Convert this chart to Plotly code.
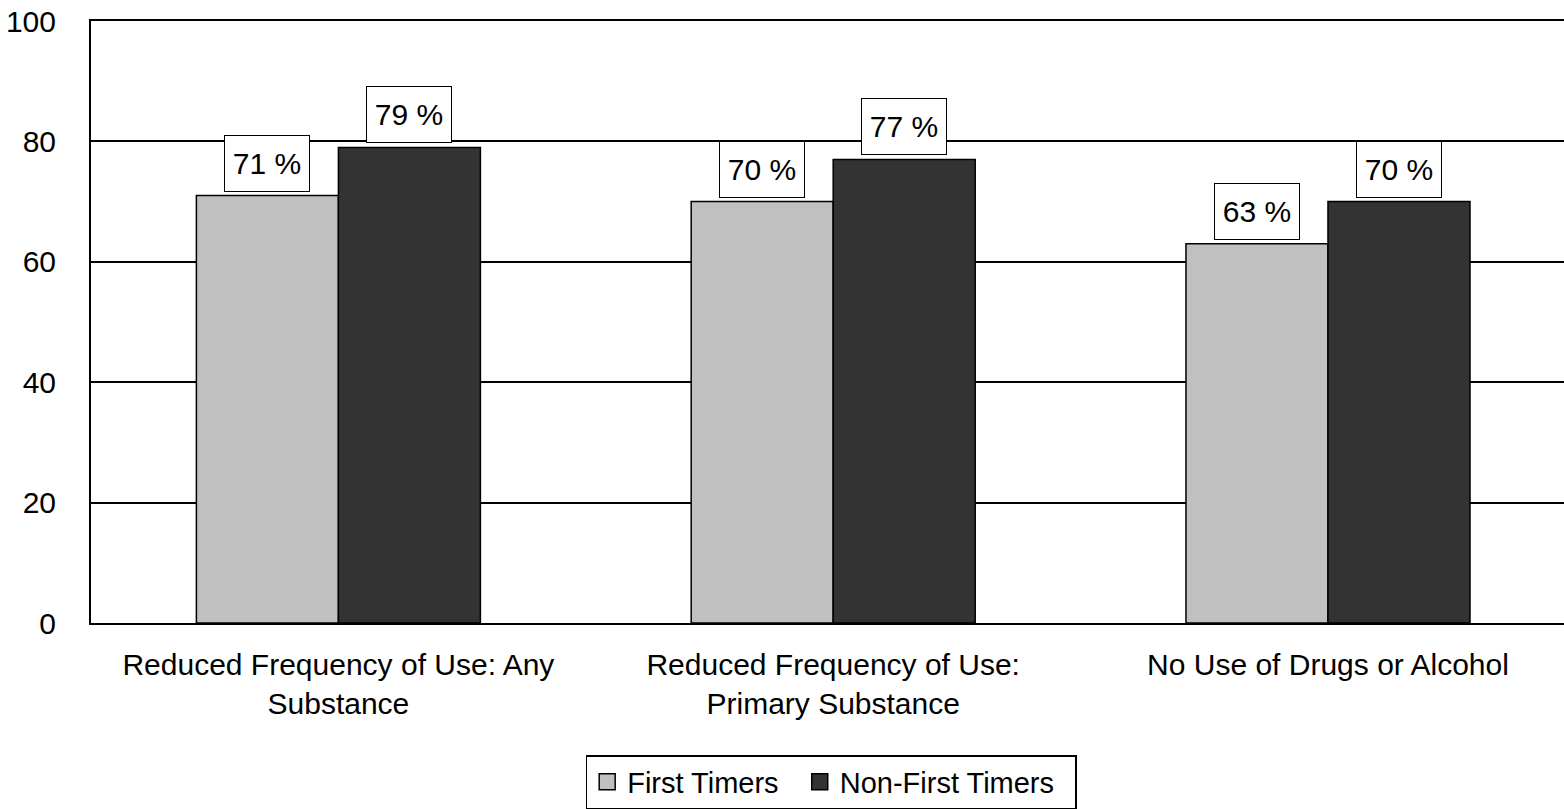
import plotly.graph_objects as go

categories = ["Reduced Frequency of Use: Any<br>Substance",
              "Reduced Frequency of Use:<br>Primary Substance",
              "No Use of Drugs or Alcohol"]
first_timers = [71, 70, 63]
non_first_timers = [79, 77, 70]
series_names = ["First Timers", "Non-First Timers"]
series_colors = ["#c0c0c0", "#333333"]
y_ticks = [0, 20, 40, 60, 80, 100]

FONT = "Liberation Sans, Arial, sans-serif"
PAD = "\u00a0\u00a0"  # spacing after legend text

fig = go.Figure()
for name, vals, col in zip(series_names, [first_timers, non_first_timers], series_colors):
    fig.add_trace(go.Bar(name=name, x=categories, y=vals, showlegend=False,
                         marker=dict(color=col, line=dict(color="black", width=1.5))))
# legend entries with larger square swatches
for name, col in zip(series_names, series_colors):
    fig.add_trace(go.Scatter(name=name + PAD, x=[None], y=[None], mode="markers",
                             marker=dict(symbol="square", size=16, color=col,
                                         line=dict(color="black", width=1.5))))

bargap = 0.426
half = (1 - bargap) / 4
annotations = []
for i in range(len(categories)):
    for off, vals in ((-half, first_timers), (half, non_first_timers)):
        annotations.append(dict(
            x=i + off, y=vals[i], xref="x", yref="y",
            text=f"{vals[i]} %", showarrow=False,
            yanchor="bottom", yshift=4,
            font=dict(family=FONT, size=30, color="black"),
            bgcolor="white", bordercolor="black", borderwidth=1,
            borderpad=2, width=80, height=51,
        ))

fig.update_layout(
    barmode="group", bargap=bargap, bargroupgap=0,
    width=1564, height=809,
    margin=dict(l=91, r=0, t=21, b=183),
    paper_bgcolor="white", plot_bgcolor="white",
    font=dict(family=FONT, size=30, color="black"),
    showlegend=True,
    legend=dict(orientation="h", x=0.5025, xanchor="center", y=-0.22, yanchor="top",
                bordercolor="black", borderwidth=1.5, font=dict(size=29),
                itemsizing="trace", tracegroupgap=0),
    annotations=annotations,
)
fig.update_xaxes(range=[-0.5, 2.477], showline=True, linecolor="black", linewidth=2,
                 mirror=True, showgrid=False, ticks="", ticklabelstandoff=14,
                 tickfont=dict(size=30))
fig.update_yaxes(range=[0, 100], tickvals=y_ticks, showline=True, linecolor="black",
                 linewidth=2, showgrid=True, gridcolor="black", gridwidth=1.5,
                 ticks="", ticklabelstandoff=27, zeroline=False,
                 tickfont=dict(size=30))

fig.write_html("out.html", config={"displayModeBar": False},
               post_script="document.body.style.margin='0';document.body.style.overflow='hidden';")
